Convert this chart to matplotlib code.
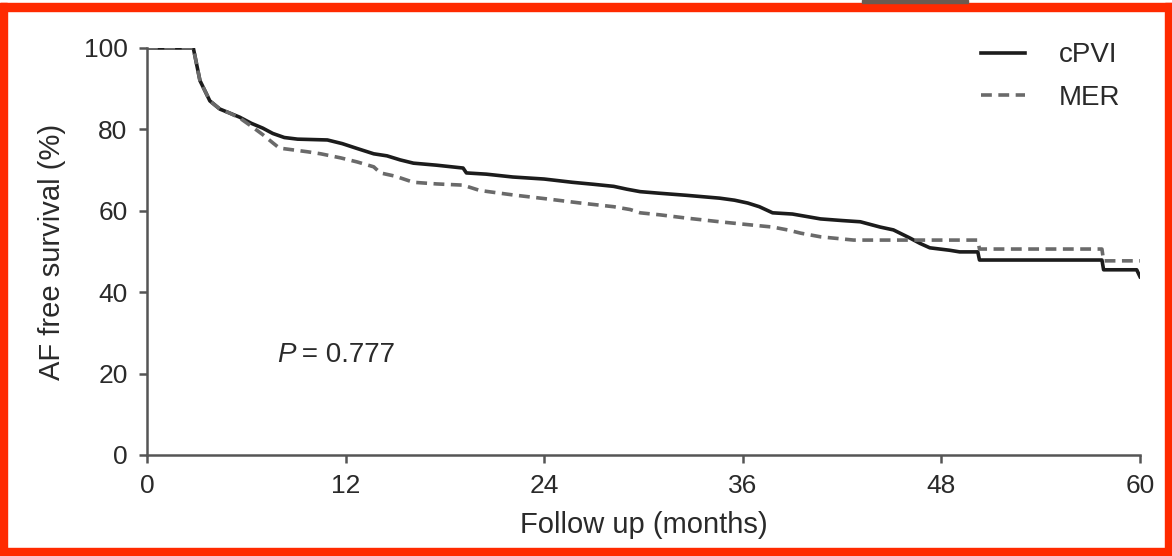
import matplotlib.pyplot as plt
from matplotlib.patches import Rectangle

# survival curves (months, % free of AF)
cpvi_t = [0, 2.8, 3.0, 3.2, 3.5, 3.8, 4.1, 4.4, 5.0, 5.6, 6.3, 7.0, 7.6, 8.3, 9.1,
          10.9, 11.8, 12.7, 13.7, 14.5, 15.3, 16.1, 17.5, 19.1, 19.3, 20.5, 22.1,
          24.0, 25.7, 27.0, 28.2, 29.0, 29.8, 31.0, 32.6, 34.6, 35.5, 36.3, 37.0,
          37.8, 39.0, 40.7, 42.0, 43.1, 44.3, 45.1, 45.6, 46.1, 46.7, 47.3, 48.5,
          49.1, 50.2, 50.3, 57.7, 57.8, 59.8, 60.0]
cpvi_v = [100, 100, 96, 92, 89.5, 87, 86, 85, 84, 83, 81.5, 80.3, 79, 78, 77.6,
          77.4, 76.5, 75.3, 74, 73.5, 72.5, 71.7, 71.2, 70.5, 69.3, 69, 68.3,
          67.8, 67, 66.5, 66, 65.3, 64.7, 64.3, 63.8, 63.1, 62.6, 61.9, 61,
          59.5, 59.2, 58, 57.6, 57.3, 56, 55.3, 54.3, 53.3, 52, 50.9, 50.3,
          49.9, 49.9, 47.9, 47.9, 45.5, 45.5, 43.8]

mer_t = [0, 2.8, 3.0, 3.2, 3.5, 3.8, 4.1, 4.4, 5.0, 5.6, 6.3, 7.0, 7.6, 8.0, 9.7,
         10.5, 11.7, 12.7, 13.7, 14.1, 15.0, 16.1, 17.5, 19.1, 20.1, 21.0, 22.1,
         24.2, 26.2, 28.2, 29.2, 29.8, 31.0, 32.6, 34.6, 36.3, 37.8, 38.7, 39.5,
         40.7, 42.7, 50.2, 50.3, 57.7, 57.8, 60.0]
mer_v = [100, 100, 96, 92, 89.5, 87, 86, 85, 84, 82.8, 80.8, 78.7, 76.7, 75.4, 74.5,
         74, 73, 72, 70.8, 69.3, 68.5, 67, 66.6, 66.3, 65, 64.5, 63.9,
         62.9, 61.9, 61, 60.3, 59.5, 59, 58.2, 57.3, 56.6, 56, 55.3, 54.5,
         53.6, 52.8, 52.8, 50.6, 50.6, 47.7, 47.7]

x_ticks = [0, 12, 24, 36, 48, 60]
y_ticks = [0, 20, 40, 60, 80, 100]
p_text = " = 0.777"

plt.rcParams['font.family'] = ['Liberation Sans', 'DejaVu Sans']

fig = plt.figure(figsize=(11.72, 5.56), dpi=100)
ax = fig.add_axes([0.1254, 0.1817, 0.9727 - 0.1254, 0.9137 - 0.1817])

ax.plot(cpvi_t, cpvi_v, color='#1c1c1c', lw=2.6, label='cPVI')
ax.plot(mer_t, mer_v, color='#6a6a6a', lw=2.6, dashes=(3, 1.8), label='MER')

ax.set_xlim(0, 60)
ax.set_ylim(0, 100)
ax.set_xticks(x_ticks)
ax.set_yticks(y_ticks)
for s in ['top', 'right']:
    ax.spines[s].set_visible(False)
for s in ['left', 'bottom']:
    ax.spines[s].set_color('#555555')
    ax.spines[s].set_linewidth(1.8)
ax.tick_params(colors='#555555', width=1.8, length=6, labelsize=19,
               labelcolor='#2a2a2a', pad=8)

ax.set_xlabel('Follow up (months)', fontsize=21, color='#2a2a2a', labelpad=9)
ax.set_ylabel('AF free survival (%)', fontsize=21, color='#2a2a2a', labelpad=13)

ax.text(0.131, 0.246, 'P', transform=ax.transAxes, fontsize=20, style='italic',
        color='#2a2a2a', va='center')
ax.text(0.148, 0.246, p_text, transform=ax.transAxes, fontsize=20, color='#2a2a2a',
        va='center')

ax.legend(loc='upper right', bbox_to_anchor=(1.005, 1.075), frameon=False,
          fontsize=20, handlelength=1.6, labelspacing=0.6, handletextpad=1.2,
          labelcolor='#2a2a2a')

# red highlight frame around the picture
W, H = 1172, 556
def rect(x0, y0, w, h, c):
    fig.patches.append(Rectangle((x0 / W, 1 - (y0 + h) / H), w / W, h / H,
                                 transform=fig.transFigure, color=c, zorder=10))

rect(0, 3, W, 8, '#ff2a00')
rect(0, 548, W, 8, '#ff2a00')
rect(0, 3, 7, H - 3, '#ff2a00')
rect(W - 7, 3, 7, H - 3, '#ff2a00')
rect(862, 0, 106, 3, '#6b5a50')

fig.savefig('out.png', dpi=100)
